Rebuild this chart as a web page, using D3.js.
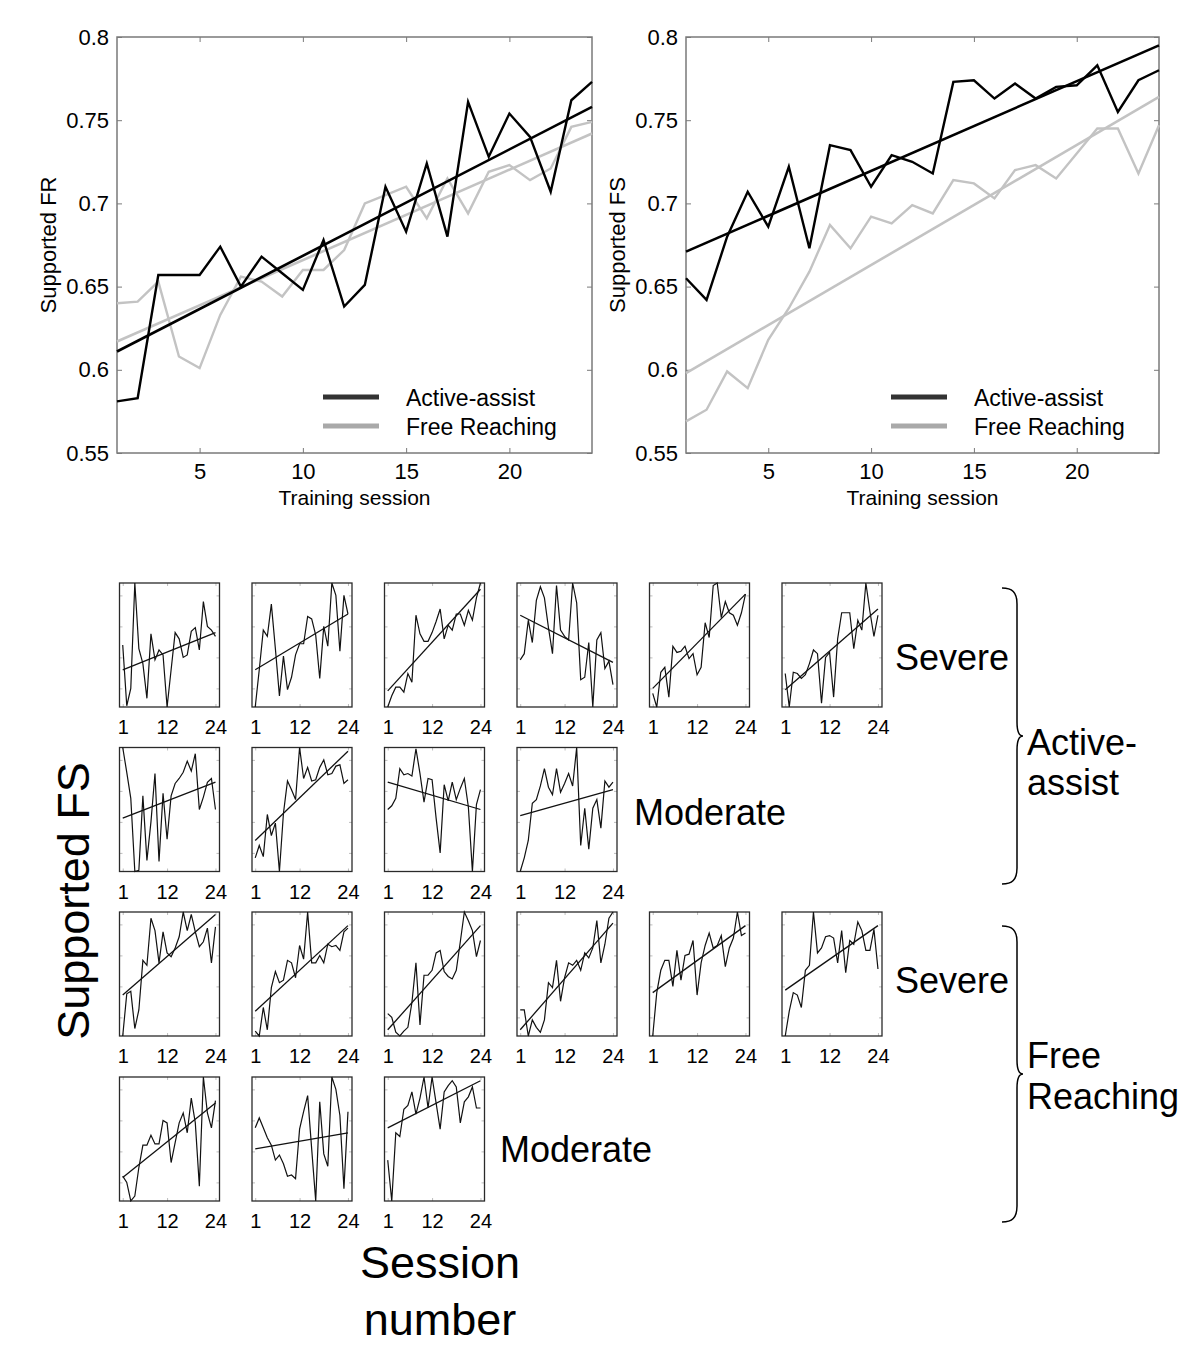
<!DOCTYPE html>
<html>
<head>
<meta charset="utf-8">
<script src="https://cdn.jsdelivr.net/npm/d3@7"></script>
<style>
  html, body { margin: 0; padding: 0; background: #fff; }
  svg { display: block; font-family: "Liberation Sans", Arial, Helvetica, sans-serif; }
</style>
</head>
<body>
<svg id="chart" width="1200" height="1356"></svg>
<script>
// ---------------- DATA ----------------
const sessions = [1,2,3,4,5,6,7,8,9,10,11,12,13,14,15,16,17,18,19,20,21,22,23,24];
const seriesNames = ["Active-assist", "Free Reaching"];
const mainYTicks = [0.55, 0.6, 0.65, 0.7, 0.75, 0.8];
const mainYTickLabels = ["0.55", "0.6", "0.65", "0.7", "0.75", "0.8"];
const mainXTicks = [5, 10, 15, 20];

// Supported FR
const frActive = [0.581,0.583,0.657,0.657,0.657,0.674,0.650,0.668,0.658,0.648,0.678,0.638,0.651,0.710,0.683,0.724,0.680,0.761,0.728,0.754,0.740,0.707,0.762,0.773];
const frFree   = [0.640,0.641,0.653,0.608,0.601,0.633,0.656,0.653,0.644,0.660,0.660,0.672,0.700,0.705,0.710,0.691,0.715,0.694,0.719,0.723,0.714,0.721,0.746,0.749];
const frActiveFit = [0.611, 0.758];
const frFreeFit   = [0.617, 0.742];

// Supported FS
const fsActive = [0.655,0.642,0.680,0.707,0.686,0.722,0.673,0.735,0.732,0.710,0.729,0.725,0.718,0.773,0.774,0.763,0.772,0.763,0.770,0.771,0.783,0.755,0.774,0.780];
const fsFree   = [0.569,0.576,0.599,0.589,0.618,0.637,0.659,0.687,0.673,0.692,0.688,0.699,0.694,0.714,0.712,0.703,0.720,0.723,0.715,0.730,0.745,0.745,0.718,0.747];
const fsActiveFit = [0.671, 0.795];
const fsFreeFit   = [0.598, 0.764];

// Individual subjects (normalised supported FS per session, 0 = panel bottom, 1 = panel top)
const miniXTicks = [1, 12, 24];
const groupLabels = ["Severe", "Moderate", "Severe", "Moderate"];
const armLabels = [["Active-", "assist"], ["Free", "Reaching"]];

const aaSevere = [
  [0.50,0.01,0.15,1.00,0.47,0.35,0.07,0.59,0.38,0.46,0.42,0.00,0.30,0.60,0.55,0.40,0.42,0.61,0.64,0.46,0.85,0.65,0.62,0.57],
  [0.00,0.30,0.62,0.57,0.83,0.47,0.09,0.41,0.14,0.24,0.42,0.51,0.51,0.73,0.71,0.58,0.23,0.65,0.49,1.00,0.90,0.45,0.90,0.75],
  [0.00,0.09,0.16,0.16,0.12,0.27,0.20,0.74,0.59,0.53,0.53,0.60,0.69,0.79,0.55,0.66,0.62,0.75,0.75,0.66,0.78,0.70,0.88,1.00],
  [0.38,0.43,0.70,0.52,0.86,0.97,0.88,0.64,0.43,0.98,0.62,0.57,0.54,1.00,0.84,0.22,0.24,0.52,0.00,0.54,0.60,0.31,0.37,0.18],
  [0.11,0.00,0.28,0.32,0.08,0.49,0.44,0.45,0.49,0.39,0.43,0.26,0.32,0.68,0.56,0.98,1.00,0.72,0.85,0.76,0.74,0.66,0.76,0.91],
  [0.27,0.00,0.28,0.27,0.23,0.26,0.35,0.46,0.43,0.03,0.40,0.44,0.08,0.55,0.76,0.76,0.76,0.47,0.70,0.62,1.00,0.77,0.57,0.74]
];
const aaSevereFit = [[0.30,0.60],[0.30,0.75],[0.13,0.95],[0.74,0.36],[0.15,0.91],[0.14,0.79]];

const aaModerate = [
  [1.00,0.80,0.59,0.00,0.01,0.61,0.09,0.40,0.79,0.08,0.63,0.26,0.61,0.71,0.75,0.80,0.89,0.81,0.95,0.50,0.60,0.72,0.75,0.50],
  [0.11,0.21,0.12,0.46,0.29,0.39,0.00,0.47,0.73,0.66,0.58,1.00,0.75,0.84,0.73,0.74,0.84,0.90,0.78,0.79,0.85,0.86,0.71,0.74],
  [0.50,0.53,0.59,0.83,0.78,0.79,0.77,0.99,0.79,0.56,0.75,0.74,0.43,0.15,0.70,0.57,0.72,0.58,0.67,0.75,0.52,0.00,0.54,0.66],
  [0.00,0.11,0.25,0.55,0.58,0.69,0.83,0.68,0.62,0.83,0.64,0.71,0.79,0.69,1.00,0.21,0.51,0.18,0.51,0.58,0.35,0.73,0.68,0.72]
];
const aaModerateFit = [[0.43,0.72],[0.25,0.97],[0.72,0.50],[0.45,0.66]];

const frSevere = [
  [0.00,0.34,0.36,0.06,0.21,0.61,0.57,0.95,0.85,0.59,0.84,0.67,0.64,0.71,0.80,1.00,0.85,0.98,0.84,0.72,0.76,0.87,0.59,0.88],
  [0.04,0.00,0.23,0.05,0.39,0.52,0.43,0.45,0.61,0.59,0.47,0.73,0.62,1.00,0.59,0.59,0.65,0.59,0.74,0.72,0.73,0.69,0.84,0.87],
  [0.18,0.15,0.03,0.00,0.04,0.07,0.27,0.59,0.09,0.49,0.49,0.53,0.67,0.69,0.52,0.48,0.46,0.53,0.76,1.00,0.93,0.85,0.64,0.77],
  [0.21,0.21,0.00,0.13,0.07,0.03,0.13,0.43,0.39,0.61,0.28,0.47,0.59,0.57,0.61,0.53,0.67,0.63,0.71,0.93,0.59,0.74,0.95,1.00],
  [0.00,0.35,0.53,0.61,0.61,0.40,0.69,0.45,0.65,0.66,0.77,0.33,0.59,0.73,0.83,0.71,0.73,0.81,0.56,0.71,0.79,1.00,0.81,0.83],
  [0.00,0.20,0.35,0.33,0.23,0.53,0.57,1.00,0.67,0.71,0.80,0.81,0.79,0.59,0.85,0.51,0.77,0.74,0.92,0.85,0.69,0.69,0.86,0.54]
];
const frSevereFit = [[0.33,0.98],[0.20,0.89],[0.05,0.89],[0.05,0.91],[0.35,0.89],[0.37,0.89]];

const frModerate = [
  [0.20,0.15,0.00,0.04,0.27,0.45,0.45,0.53,0.46,0.46,0.65,0.63,0.31,0.47,0.63,0.71,0.55,0.83,0.63,0.12,1.00,0.71,0.59,0.81],
  [0.59,0.67,0.59,0.51,0.45,0.33,0.37,0.30,0.20,0.21,0.18,0.58,0.72,0.85,0.42,0.00,0.80,0.38,0.28,1.00,0.90,0.69,0.10,0.72],
  [0.33,0.00,0.55,0.52,0.74,0.77,0.88,0.70,0.83,1.00,0.75,1.00,0.79,0.58,0.88,0.93,0.97,0.92,0.63,0.80,0.84,0.92,0.75,0.75]
];
const frModerateFit = [[0.19,0.79],[0.42,0.55],[0.59,0.97]];

// ---------------- DRAW ----------------
const svg = d3.select("#chart");
const FONT = "\"Liberation Sans\", Arial, Helvetica, sans-serif";

function drawMain(box, ylabel, active, free, activeFit, freeFit, legend) {
  const x = d3.scaleLinear().domain([1, 24]).range([box.left, box.right]);
  const y = d3.scaleLinear().domain([0.55, 0.8]).range([box.bottom, box.top]);
  const g = svg.append("g");
  const frameColor = "#7a7a7a";

  const axB = d3.axisBottom(x).tickValues(mainXTicks).tickSizeInner(-5).tickSizeOuter(0).tickPadding(0).tickFormat(d3.format("d"));
  const axT = d3.axisTop(x).tickValues(mainXTicks).tickSizeInner(-5).tickSizeOuter(0).tickFormat("");
  const axL = d3.axisLeft(y).tickValues(mainYTicks).tickSizeInner(-5).tickSizeOuter(0).tickPadding(8)
                .tickFormat((d, i) => mainYTickLabels[i]);
  const axR = d3.axisRight(y).tickValues(mainYTicks).tickSizeInner(-5).tickSizeOuter(0).tickFormat("");

  const gB = g.append("g").attr("transform", `translate(0,${box.bottom})`).call(axB);
  const gT = g.append("g").attr("transform", `translate(0,${box.top})`).call(axT);
  const gL = g.append("g").attr("transform", `translate(${box.left},0)`).call(axL);
  const gR = g.append("g").attr("transform", `translate(${box.right},0)`).call(axR);
  [gB, gT, gL, gR].forEach(a => {
    a.select(".domain").remove();
    a.selectAll(".tick line").attr("stroke", frameColor).attr("stroke-width", 1);
    a.selectAll("text").attr("fill", "#000").style("font-family", FONT).style("font-size", "22px");
  });
  gB.selectAll("text").attr("y", 26).attr("dy", null);
  g.append("rect").attr("x", box.left).attr("y", box.top)
    .attr("width", box.right - box.left).attr("height", box.bottom - box.top)
    .attr("fill", "none").attr("stroke", frameColor).attr("stroke-width", 1.5);

  const line = d3.line().x((d, i) => x(sessions[i])).y(d => y(d));
  const fitLine = d3.line().x((d, i) => x(i === 0 ? sessions[0] : sessions[sessions.length - 1])).y(d => y(d));

  const grey = "#c3c3c3";
  g.append("path").datum(free).attr("d", line).attr("fill", "none").attr("stroke", grey).attr("stroke-width", 2.4);
  g.append("path").datum(freeFit).attr("d", fitLine).attr("fill", "none").attr("stroke", grey).attr("stroke-width", 2.6);
  g.append("path").datum(active).attr("d", line).attr("fill", "none").attr("stroke", "#000").attr("stroke-width", 2.4);
  g.append("path").datum(activeFit).attr("d", fitLine).attr("fill", "none").attr("stroke", "#000").attr("stroke-width", 2.6);

  // axis labels
  g.append("text").attr("x", (box.left + box.right) / 2).attr("y", box.bottom + 52)
    .attr("text-anchor", "middle").style("font-size", "21px").text("Training session");
  g.append("text").attr("transform", `translate(${box.left - 61},${(box.top + box.bottom) / 2}) rotate(-90)`)
    .attr("text-anchor", "middle").style("font-size", "22px").text(ylabel);

  // legend
  const legColors = ["#333333", "#a9a9a9"];
  seriesNames.forEach((name, i) => {
    const ly = legend.y + i * 29;
    g.append("line").attr("x1", legend.x).attr("x2", legend.x + 56).attr("y1", ly).attr("y2", ly)
      .attr("stroke", legColors[i]).attr("stroke-width", 5);
    g.append("text").attr("x", legend.x + 83).attr("y", ly + 9).style("font-size", "23px").text(name);
  });
}

drawMain({left: 117, right: 592, top: 37, bottom: 453}, "Supported FR", frActive, frFree, frActiveFit, frFreeFit, {x: 323, y: 397});
drawMain({left: 686, right: 1159, top: 37, bottom: 453}, "Supported FS", fsActive, fsFree, fsActiveFit, fsFreeFit, {x: 891, y: 397});

// ---------- small multiples ----------
const colLeft = c => 119.5 + c * 132.5;
const rowTop = [583, 747.5, 912, 1077];
const PW = 100, PH = 124;

function drawMini(left, top, values, fit) {
  const x = d3.scaleLinear().domain([0.2, 25]).range([left, left + PW]);
  const y = d3.scaleLinear().domain([0, 1]).range([top + PH, top]);
  const g = svg.append("g");
  const tickCol = "#bdbdbd";
  const axB = d3.axisBottom(x).tickValues(miniXTicks).tickSizeInner(-3).tickSizeOuter(0).tickPadding(10).tickFormat(d3.format("d"));
  const axT = d3.axisTop(x).tickValues(miniXTicks).tickSizeInner(-3).tickSizeOuter(0).tickFormat("");
  const yt = [0.15, 0.4, 0.65, 0.9];
  const axL = d3.axisLeft(y).tickValues(yt).tickSizeInner(-3).tickSizeOuter(0).tickFormat("");
  const axR = d3.axisRight(y).tickValues(yt).tickSizeInner(-3).tickSizeOuter(0).tickFormat("");
  const gB = g.append("g").attr("transform", `translate(0,${top + PH})`).call(axB);
  const gT = g.append("g").attr("transform", `translate(0,${top})`).call(axT);
  const gL = g.append("g").attr("transform", `translate(${left},0)`).call(axL);
  const gR = g.append("g").attr("transform", `translate(${left + PW},0)`).call(axR);
  [gB, gT, gL, gR].forEach(a => {
    a.select(".domain").remove();
    a.selectAll(".tick line").attr("stroke", tickCol);
    a.selectAll("text").attr("fill", "#000").style("font-family", FONT).style("font-size", "20px");
  });
  gB.selectAll("text").attr("dy", "0.85em");
  g.append("rect").attr("x", left).attr("y", top).attr("width", PW).attr("height", PH)
    .attr("fill", "none").attr("stroke", "#2a2a2a").attr("stroke-width", 1.3);
  const line = d3.line().x((d, i) => x(sessions[i])).y(d => y(d));
  g.append("path").datum(values).attr("d", line).attr("fill", "none").attr("stroke", "#111").attr("stroke-width", 1.2);
  const fitLine = d3.line().x((d, i) => x(i === 0 ? sessions[0] : sessions[sessions.length - 1])).y(d => y(d));
  g.append("path").datum(fit).attr("d", fitLine).attr("fill", "none").attr("stroke", "#111").attr("stroke-width", 1.3);
}

const groups = [
  {vals: aaSevere, fits: aaSevereFit, label: groupLabels[0], lx: 895, ly: 670},
  {vals: aaModerate, fits: aaModerateFit, label: groupLabels[1], lx: 634, ly: 825},
  {vals: frSevere, fits: frSevereFit, label: groupLabels[2], lx: 895, ly: 993},
  {vals: frModerate, fits: frModerateFit, label: groupLabels[3], lx: 500, ly: 1162}
];
groups.forEach((gr, r) => {
  gr.vals.forEach((v, c) => drawMini(colLeft(c), rowTop[r], v, gr.fits[c]));
  svg.append("text").attr("x", gr.lx).attr("y", gr.ly).style("font-size", "36px").text(gr.label);
});

// braces
function brace(x0, top, bottom) {
  const mid = (top + bottom) / 2, xv = x0 + 15, xt = x0 + 21;
  const p = `M${x0},${top} C${x0 + 10},${top} ${xv},${top + 4} ${xv},${top + 16}
    L${xv},${mid - 14} C${xv},${mid - 4} ${xv + 2},${mid} ${xt},${mid}
    C${xv + 2},${mid} ${xv},${mid + 4} ${xv},${mid + 14}
    L${xv},${bottom - 16} C${xv},${bottom - 4} ${x0 + 10},${bottom} ${x0},${bottom}`;
  svg.append("path").attr("d", p).attr("fill", "none").attr("stroke", "#000").attr("stroke-width", 1.5);
}
brace(1002, 588, 884);
brace(1002, 926, 1222);

svg.append("text").attr("x", 1027).attr("y", 755).style("font-size", "36px").text(armLabels[0][0]);
svg.append("text").attr("x", 1027).attr("y", 795).style("font-size", "36px").text(armLabels[0][1]);
svg.append("text").attr("x", 1027).attr("y", 1068).style("font-size", "36px").text(armLabels[1][0]);
svg.append("text").attr("x", 1027).attr("y", 1109).style("font-size", "36px").text(armLabels[1][1]);

// big axis labels
svg.append("text").attr("transform", "translate(89,901) rotate(-90)").attr("text-anchor", "middle")
  .style("font-size", "45px").text("Supported FS");
svg.append("text").attr("x", 440).attr("y", 1278).attr("text-anchor", "middle").style("font-size", "45px").text("Session");
svg.append("text").attr("x", 440).attr("y", 1335).attr("text-anchor", "middle").style("font-size", "45px").text("number");
</script>
</body>
</html>
